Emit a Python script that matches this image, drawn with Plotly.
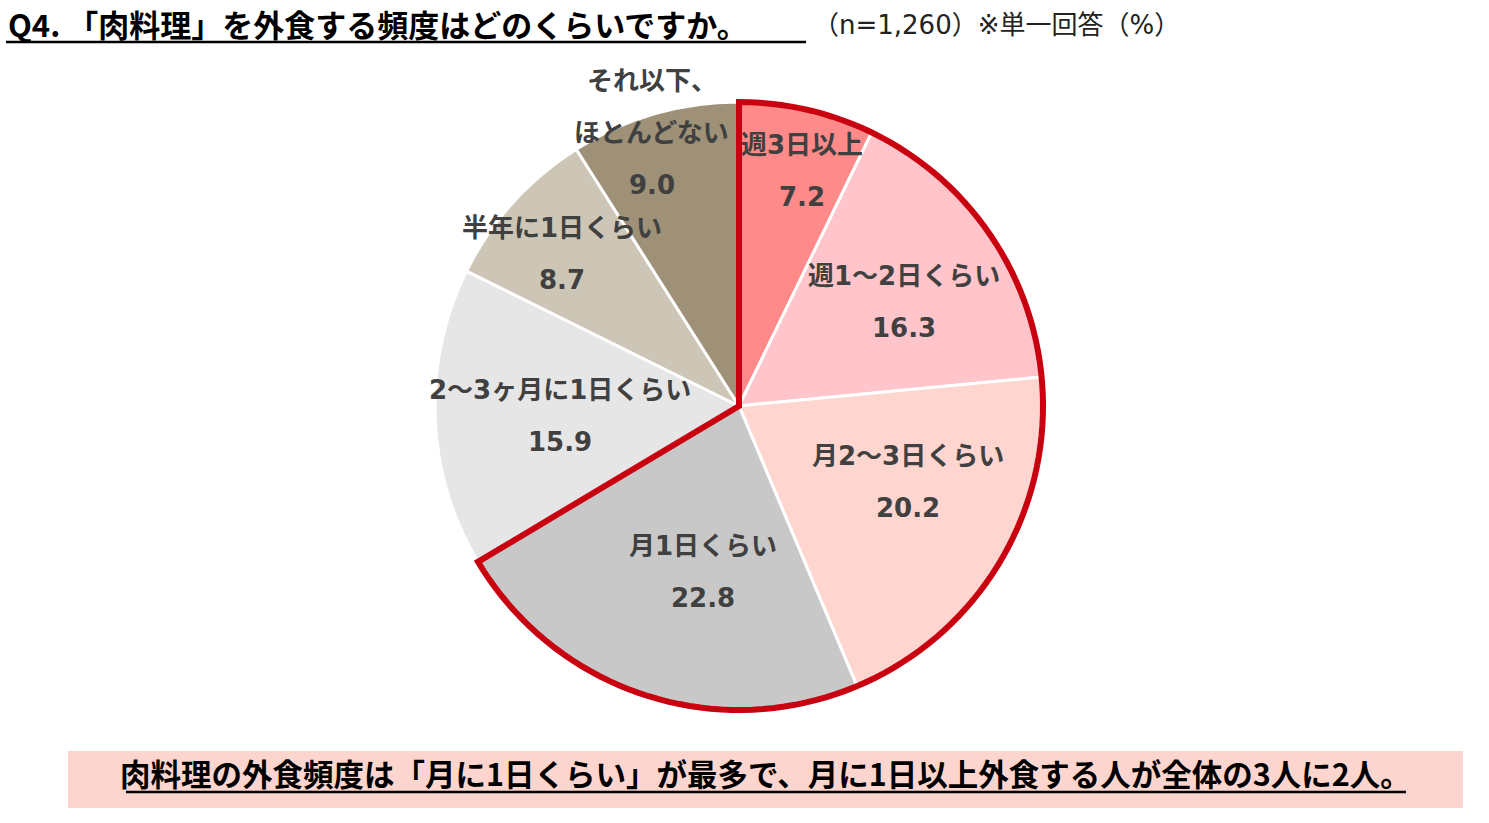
import math
import plotly.graph_objects as go

# ---- data ----
categories = ["週3日以上", "週1〜2日くらい", "月2〜3日くらい", "月1日くらい",
              "2〜3ヶ月に1日くらい", "半年に1日くらい", "それ以下、<br>ほとんどない"]
values = [7.2, 16.3, 20.2, 22.8, 15.9, 8.7, 9.0]
colors = ["#FF8A8A", "#FFC5CB", "#FFD5CF", "#C8C8C8", "#E6E6E6", "#CDC6B6", "#9E9178"]
highlight_count = 4  # slices that are "月に1日以上"

title_text = "Q4. 「肉料理」を外食する頻度はどのくらいですか。"
subtitle_text = "（n=1,260）※単一回答（%）"
banner_text = "肉料理の外食頻度は「月に1日くらい」が最多で、月に1日以上外食する人が全体の3人に2人。"

# ---- layout geometry (pixels) ----
W, H = 1489, 823
CX, CY, R = 739, 406, 304
label_r = [0.80, 0.64, 0.61, 0.56, 0.59, 0.767, 0.944]
label_dtheta = [2.0, 2.6, -6.8, -5.8, -0.9, -1.3, -1.5]

def px(x):
    return x / W

def py(y):
    return 1 - y / H

fig = go.Figure()
fig.add_trace(go.Pie(
    values=values, labels=categories, sort=False, direction="clockwise", rotation=0,
    marker=dict(colors=colors, line=dict(color="white", width=3)),
    textinfo="none", hoverinfo="label+value", showlegend=False,
    domain=dict(x=[px(CX - R), px(CX + R)], y=[py(CY + R), py(CY - R)]),
))

total = sum(values)
annotations = []
shapes = []
lab_font = dict(family="DejaVu Sans, Noto Sans CJK JP", size=26, color="#404040", weight="bold")
cum = 0
for i, (c, v) in enumerate(zip(categories, values)):
    mid = (cum + v / 2) / total * 360 + label_dtheta[i]
    cum += v
    rr = label_r[i] * R
    x = CX + rr * math.sin(math.radians(mid))
    y = CY - rr * math.cos(math.radians(mid))
    lines = c.split("<br>") + [f"{v:.1f}"]
    n = len(lines)
    for j, t in enumerate(lines):
        shift = ((n - 1) / 2 - j) * 52
        annotations.append(dict(x=px(x), y=py(y), xref="paper", yref="paper", text=t,
                                showarrow=False, font=lab_font, yshift=shift,
                                xanchor="center", yanchor="middle"))

# red outline around the first slices
frac = sum(values[:highlight_count]) / total
pts = [(CX, CY)]
steps = 120
for k in range(steps + 1):
    a = math.radians(frac * 360 * k / steps)
    pts.append((CX + R * math.sin(a), CY - R * math.cos(a)))
path = "M " + " L ".join(f"{px(x):.5f},{py(y):.5f}" for x, y in pts) + " Z"
shapes.append(dict(type="path", path=path, xref="paper", yref="paper",
                   line=dict(color="#C8000F", width=6), fillcolor="rgba(0,0,0,0)", layer="above"))

# title + underline
annotations.append(dict(x=px(7), y=py(23), xref="paper", yref="paper", text=title_text,
                        showarrow=False, xanchor="left", yanchor="middle", borderpad=0,
                        font=dict(family="Noto Sans CJK JP", size=31, color="black", weight="bold")))
shapes.append(dict(type="line", xref="paper", yref="paper", x0=px(6), x1=px(806), y0=py(42), y1=py(42),
                   line=dict(color="black", width=2.5)))
annotations.append(dict(x=px(812), y=py(25), xref="paper", yref="paper", text=subtitle_text,
                        showarrow=False, xanchor="left", yanchor="middle", borderpad=0,
                        font=dict(family="DejaVu Sans, Noto Sans CJK JP", size=26, color="#222222")))

# banner
shapes.append(dict(type="rect", xref="paper", yref="paper", x0=px(68), x1=px(1463), y0=py(808), y1=py(751),
                   fillcolor="#FCD5CE", line=dict(width=0), layer="below"))
annotations.append(dict(x=px(766), y=py(773), xref="paper", yref="paper", text=banner_text,
                        showarrow=False, xanchor="center", yanchor="middle",
                        font=dict(family="Noto Sans CJK JP", size=30.5, color="black", weight="bold")))
shapes.append(dict(type="line", xref="paper", yref="paper", x0=px(126), x1=px(1406), y0=py(792), y1=py(792),
                   line=dict(color="black", width=2.5)))

fig.update_layout(width=W, height=H, margin=dict(l=0, r=0, t=0, b=0),
                  paper_bgcolor="white", plot_bgcolor="white",
                  annotations=annotations, shapes=shapes)

fig.write_html("out.html", config={"displayModeBar": False},
               post_script="document.body.style.margin='0';")
